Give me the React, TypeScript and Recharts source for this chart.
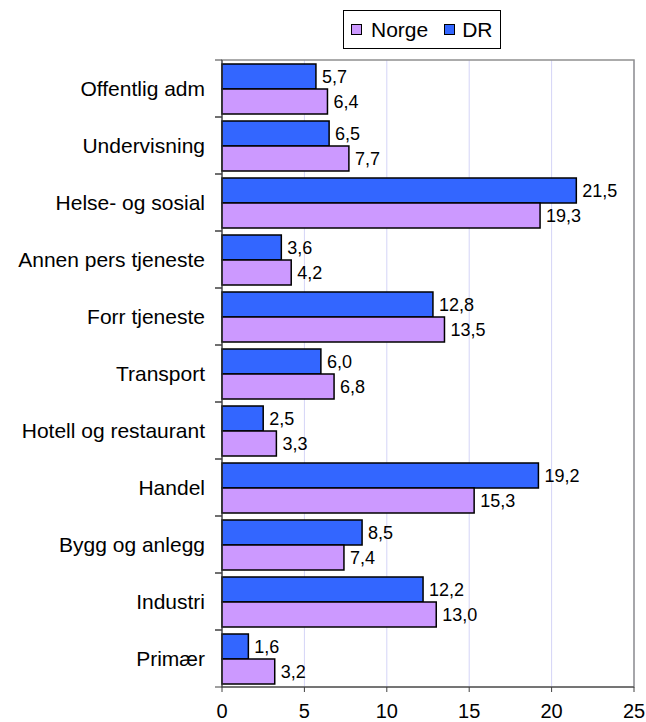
import React from 'react';
import { BarChart, Bar, XAxis, YAxis, CartesianGrid, LabelList, ReferenceArea } from 'recharts';

const categories = [
  'Offentlig adm',
  'Undervisning',
  'Helse- og sosial',
  'Annen pers tjeneste',
  'Forr tjeneste',
  'Transport',
  'Hotell og restaurant',
  'Handel',
  'Bygg og anlegg',
  'Industri',
  'Primær',
];
const drValues = [5.7, 6.5, 21.5, 3.6, 12.8, 6.0, 2.5, 19.2, 8.5, 12.2, 1.6];
const norgeValues = [6.4, 7.7, 19.3, 4.2, 13.5, 6.8, 3.3, 15.3, 7.4, 13.0, 3.2];
const xTicks = [0, 5, 10, 15, 20, 25];

const DR_COLOR = '#3366ff';
const NORGE_COLOR = '#cc99ff';
const FONT = '"Liberation Sans", Arial, sans-serif';

const data = categories.map((name, i) => ({ name, dr: drValues[i], norge: norgeValues[i] }));

const fmt = (v: any) => Number(v).toFixed(1).replace('.', ',');

// category label plus tick marks on the band edges (like the original)
const CategoryTick = (props: any) => {
  const { x, y, payload } = props;
  const half = payload && payload.offset ? payload.offset : 28.5;
  const axisX = x + 8;
  return (
    <g>
      <line x1={axisX - 7} x2={axisX} y1={y - half} y2={y - half} stroke="#404040" />
      <line x1={axisX - 7} x2={axisX} y1={y + half} y2={y + half} stroke="#404040" />
      <text x={axisX - 17} y={y} dy="0.35em" textAnchor="end" fontSize={21} fill="#000" fontFamily={FONT}>
        {payload.value}
      </text>
    </g>
  );
};

const LegendBox = () => (
  <div
    style={{
      position: 'absolute',
      left: 343,
      top: 10,
      width: 156,
      height: 37,
      border: '1px solid #000',
      background: '#fff',
      display: 'flex',
      alignItems: 'center',
      fontFamily: FONT,
      fontSize: 21,
      boxSizing: 'content-box',
    }}
  >
    {[
      { label: 'Norge', color: NORGE_COLOR },
      { label: 'DR', color: DR_COLOR },
    ].map((item, i) => (
      <div key={item.label} style={{ display: 'flex', alignItems: 'center', marginLeft: i === 0 ? 7 : 16 }}>
        <span style={{ width: 9, height: 9, background: item.color, border: '1px solid #000', marginRight: i === 0 ? 9 : 7 }} />
        <span>{item.label}</span>
      </div>
    ))}
  </div>
);

export default function App() {
  return (
    <div style={{ position: 'relative', width: 646, height: 722, background: '#fff' }}>
      <style>{`body{margin:0}`}</style>
      <BarChart
        width={646}
        height={722}
        data={data}
        layout="vertical"
        margin={{ top: 60, right: 12, bottom: 0, left: 0 }}
        barCategoryGap={4}
        barGap={0}
      >
        <CartesianGrid horizontal={false} stroke="#d4d4f7" />
        {/* grey frame round the plot area */}
        <ReferenceArea x1={0} x2={25} fill="none" stroke="#909090" strokeWidth={1.5} ifOverflow="visible" />
        <XAxis
          type="number"
          domain={[0, 25]}
          ticks={xTicks}
          height={35}
          tickSize={5}
          tickMargin={12}
          axisLine={{ stroke: '#404040' }}
          tickLine={{ stroke: '#404040' }}
          tick={{ fontSize: 20, fill: '#000', fontFamily: FONT }}
        />
        <YAxis
          type="category"
          dataKey="name"
          width={222}
          axisLine={{ stroke: '#404040' }}
          tickLine={false}
          tick={<CategoryTick />}
          interval={0}
        />
        <Bar dataKey="dr" fill={DR_COLOR} stroke="#000" strokeWidth={1.5} isAnimationActive={false}>
          <LabelList dataKey="dr" position="right" offset={6} formatter={fmt} fontSize={18} fill="#000" fontFamily={FONT} />
        </Bar>
        <Bar dataKey="norge" fill={NORGE_COLOR} stroke="#000" strokeWidth={1.5} isAnimationActive={false}>
          <LabelList dataKey="norge" position="right" offset={6} formatter={fmt} fontSize={18} fill="#000" fontFamily={FONT} />
        </Bar>
      </BarChart>
      <LegendBox />
    </div>
  );
}
